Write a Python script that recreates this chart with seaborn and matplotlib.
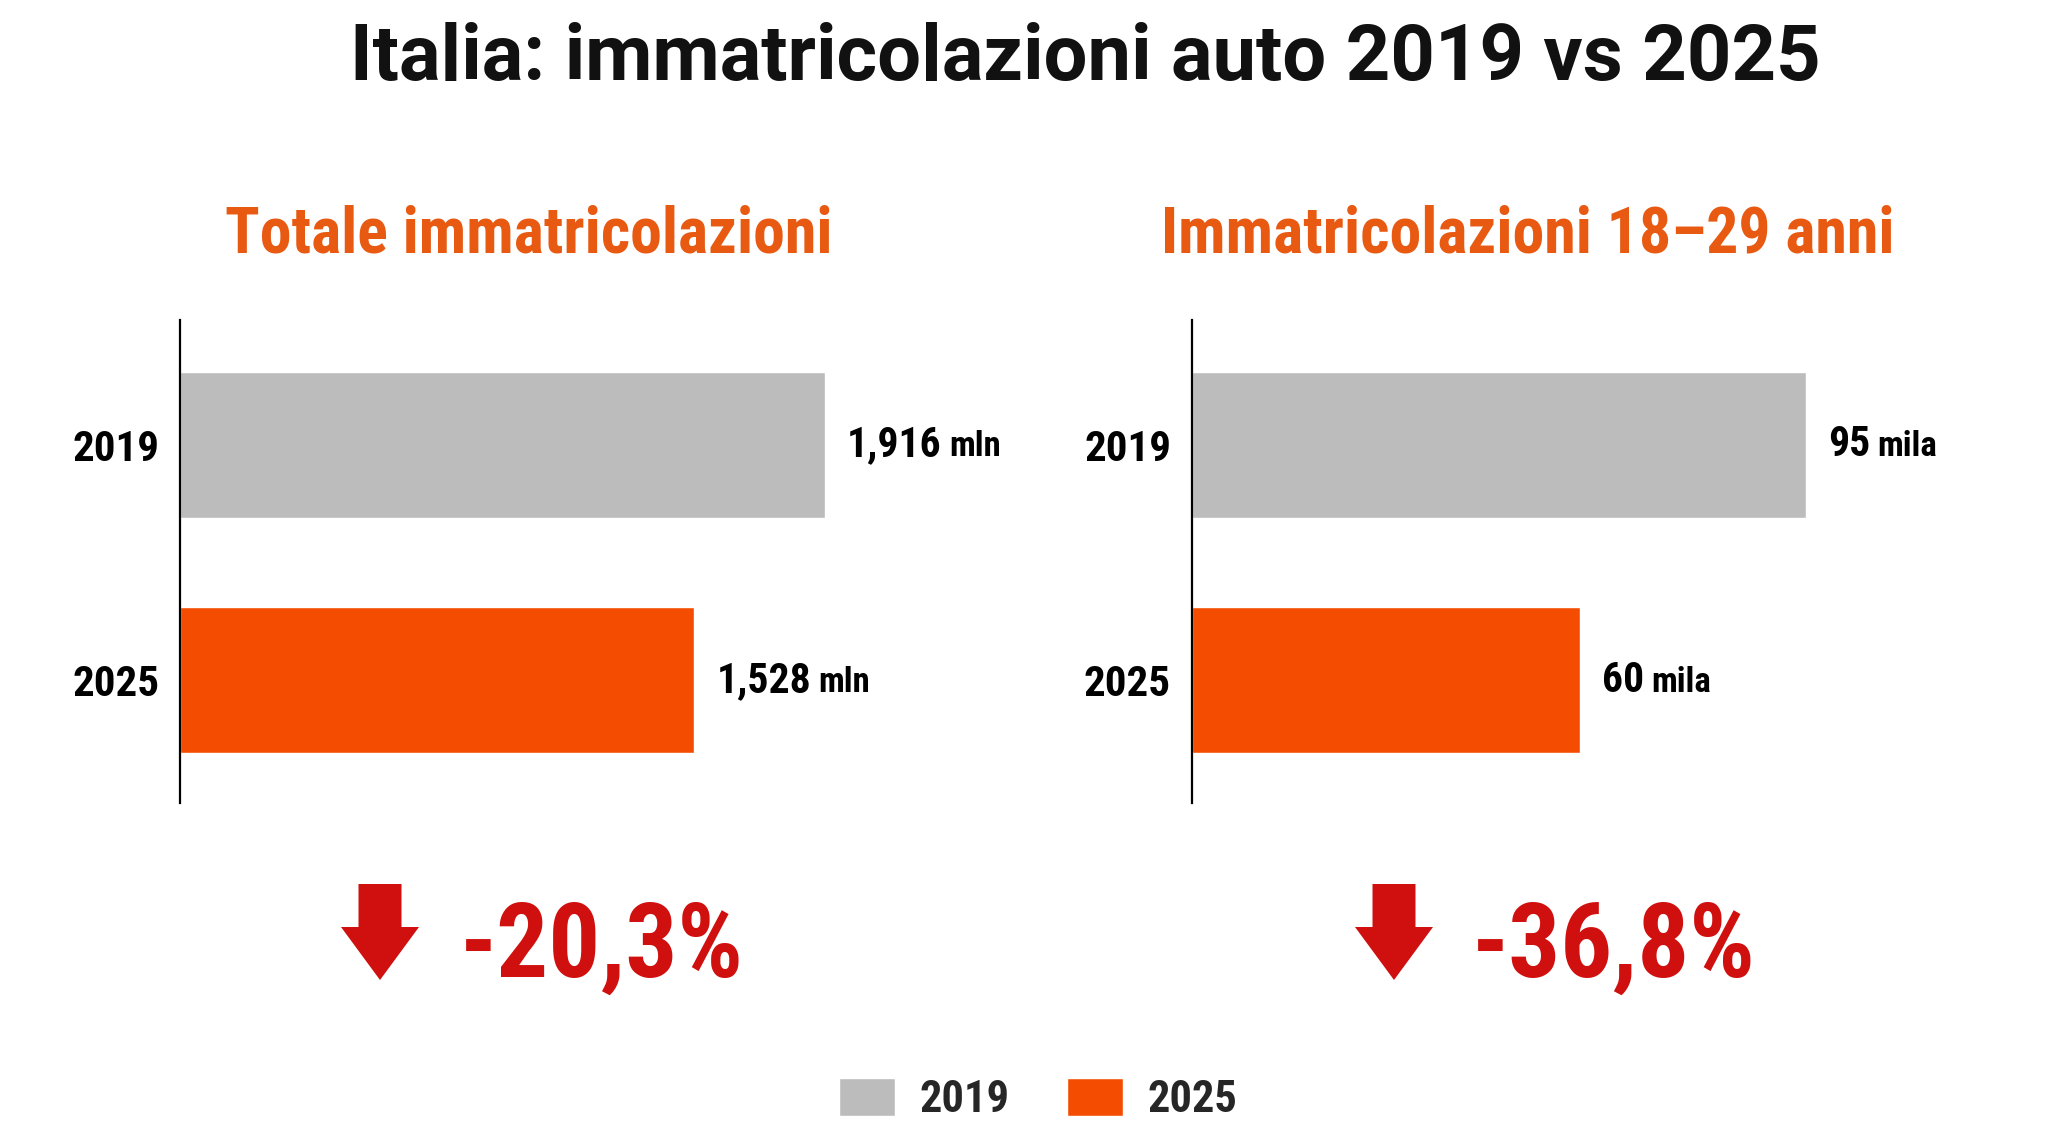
import pandas as pd
import matplotlib
matplotlib.use("Agg")
import matplotlib.pyplot as plt
import seaborn as sns
from matplotlib import font_manager
from matplotlib.patches import Patch, FancyArrow
from matplotlib.offsetbox import TextArea, HPacker, AnnotationBbox

# data
anni = ["2019", "2025"]
totale = [1.916, 1.528]          # milioni
giovani = [95, 60]               # migliaia
label_totale = ["1,916", "1,528"]
label_giovani = ["95", "60"]
variazioni = ["-20,3%", "-36,8%"]
titoli = ["Totale immatricolazioni", "Immatricolazioni 18\u201329 anni"]

GRIGIO = "#bcbcbc"
ARANCIO = "#f44d02"
ARANCIO_TXT = "#e85a12"
ROSSO = "#d0100f"

sns.set_theme(style="white")
names = {f.name for f in font_manager.fontManager.ttflist}
COND = next((n for n in ["Roboto Condensed", "Liberation Sans Narrow", "Open Sans Condensed"]
             if n in names), "Roboto")
plt.rcParams["font.family"] = [COND, "DejaVu Sans"]

fig = plt.figure(figsize=(20.48, 11.43), dpi=100)
fig.patch.set_facecolor("white")

ax1 = fig.add_axes([0.0879, 0.2975, 0.4004, 0.4226])
ax2 = fig.add_axes([0.5820, 0.2975, 0.3994, 0.4226])

pannelli = [
    (ax1, totale, label_totale, "mln", 2.436),
    (ax2, giovani, label_giovani, "mila", 126.6),
]

for ax, valori, etichette, unita, xmax in pannelli:
    df = pd.DataFrame({"anno": anni, "valore": valori})
    sns.barplot(data=df, y="anno", x="valore", hue="anno",
                palette=[GRIGIO, ARANCIO], width=0.62, legend=False,
                ax=ax, saturation=1)
    ax.set_xlim(0, xmax)
    ax.set_ylim(1.52, -0.53)
    ax.set_xlabel("")
    ax.set_ylabel("")
    ax.set_xticks([])
    sns.despine(ax=ax, left=False, bottom=True, top=True, right=True)
    ax.spines["left"].set_color("black")
    ax.spines["left"].set_linewidth(1.6)
    ax.tick_params(axis="y", length=0, pad=15, labelsize=31)
    for t in ax.get_yticklabels():
        t.set_fontweight("bold")
        t.set_color("black")
    for i, (v, lab) in enumerate(zip(valori, etichette)):
        box = HPacker(children=[
            TextArea(lab, textprops=dict(fontsize=30, fontweight="bold", color="black")),
            TextArea(unita, textprops=dict(fontsize=25, fontweight="bold", color="black")),
        ], align="baseline", pad=0, sep=5)
        ab = AnnotationBbox(box, (v, i), xybox=(16, 0), xycoords="data",
                            boxcoords="offset points", box_alignment=(0, 0.5),
                            frameon=False)
        ax.add_artist(ab)

fig.text(0.530, 0.948, "Italia: immatricolazioni auto 2019 vs 2025",
         ha="center", va="center", fontsize=56, fontweight="bold", color="#111111",
         family=["Roboto", "DejaVu Sans"])
fig.text(0.258, 0.794, titoli[0], ha="center", va="center",
         fontsize=46, fontweight="bold", color=ARANCIO_TXT)
fig.text(0.746, 0.794, titoli[1], ha="center", va="center",
         fontsize=46, fontweight="bold", color=ARANCIO_TXT)

# frecce e variazioni
for xc, xt, testo in [(380 / 2048, 460 / 2048, variazioni[0]),
                      (1394 / 2048, 1472 / 2048, variazioni[1])]:
    arr = FancyArrow(xc, 1 - 884 / 1143, 0, -(96 / 1143), width=24 / 1143,
                     head_width=78 / 2048, head_length=53 / 1143,
                     length_includes_head=True, transform=fig.transFigure,
                     color=ROSSO, lw=0)
    fig.add_artist(arr)
    fig.text(xt, 1 - 977 / 1143, testo, ha="left", va="baseline",
             fontsize=74, fontweight="bold", color=ROSSO)

handles = [Patch(facecolor=GRIGIO, label=anni[0]), Patch(facecolor=ARANCIO, label=anni[1])]
leg = fig.legend(handles=handles, loc="center", bbox_to_anchor=(0.507, 0.038),
                 ncol=2, frameon=False, handlelength=1.25, handleheight=0.95,
                 handletextpad=0.55, columnspacing=1.3, prop=dict(size=32, weight="bold"))

fig.savefig("out.png", dpi=100, facecolor="white")
